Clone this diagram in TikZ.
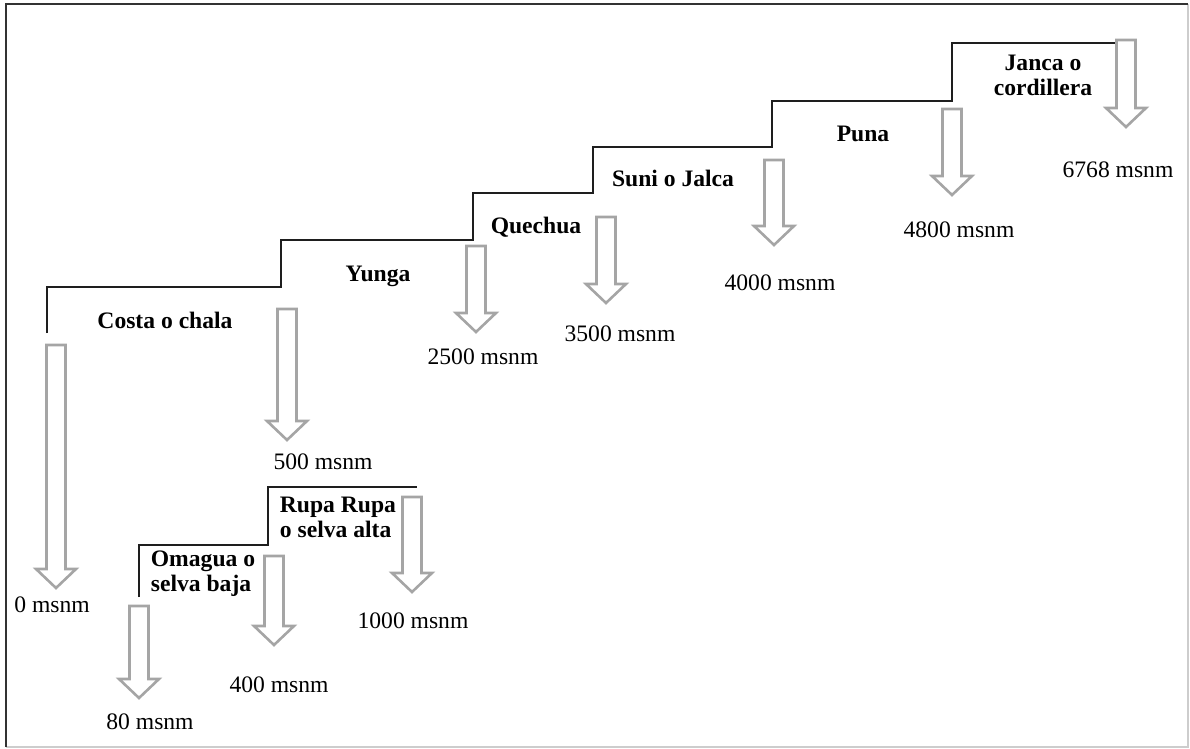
\documentclass[tikz,border=0pt]{standalone}
\usepackage{fontspec}
\setmainfont{Liberation Serif}
\definecolor{stepK}{RGB}{30,30,30}
\definecolor{dropG}{RGB}{165,165,165}
\definecolor{frameK}{RGB}{50,50,50}
\definecolor{frameL}{RGB}{205,205,205}

\begin{document}
\begin{tikzpicture}[x=0.5pt,y=-0.5pt,
  zone/.style={font=\fontsize{11.8}{12.6}\selectfont\bfseries,align=center,inner sep=0pt},
  alt/.style={font=\fontsize{11.8}{12.6}\selectfont,inner sep=0pt},
  drop/.style={draw=dropG,line width=1.3pt,fill=white,line join=miter},
  stair/.style={draw=stepK,line width=1pt}]
\useasboundingbox (0,0) rectangle (1190,749);
% ---------- frame ----------
\draw[frameL,line width=1pt] (1188,4)--(1188,747)--(6,747);
\draw[frameK,line width=1.1pt] (6,747)--(6,4)--(1188,4);
% ---------- steps ----------
\draw[stair] (47,333) |- (281,287) |- (473,240) |- (593,193) |- (772,147) |- (952,101) |- (1117,43);
\draw[stair] (139,597) |- (268,545) |- (417,487);
% ---------- arrows: x / top / tip ----------
\foreach \x/\t/\b in {56/345/588,287/309/440,476/246/332,606/217/303,774/160/245,952/109/195,1126/40/127,139/606/698,274/556/645,412/497/592}
  \draw[drop] (\x-9.5,\t)--(\x+9.5,\t)--(\x+9.5,\b-19)--(\x+20,\b-19)--(\x,\b)--(\x-20,\b-19)--(\x-9.5,\b-19)--cycle;
% ---------- zones ----------
\node[zone] (costa) at (165,320) {Costa o chala};
\node[zone] (yunga) at (378,276) {Yunga};
\node[zone] (quechua) at (536,227) {Quechua};
\node[zone] (suni) at (673,178) {Suni o Jalca};
\node[zone] (puna) at (863,134) {Puna};
\node[zone] (janca) at (1043,75) {Janca o\\cordillera};
\node[zone,align=left] (rupa) at (338,517) {Rupa Rupa\\o selva alta};
\node[zone,align=left] (omagua) at (203,574) {Omagua o\\selva baja};
% ---------- altitudes ----------
\foreach \n/\x/\y in {0/52/605,500/323/462,2500/483/357,3500/620/334,4000/780/283,4800/959/230,6768/1118/170,80/150/722,400/279/685,1000/413/621}
  \node[alt] (m\n) at (\x,\y) {\n\ msnm};
\end{tikzpicture}
\end{document}
